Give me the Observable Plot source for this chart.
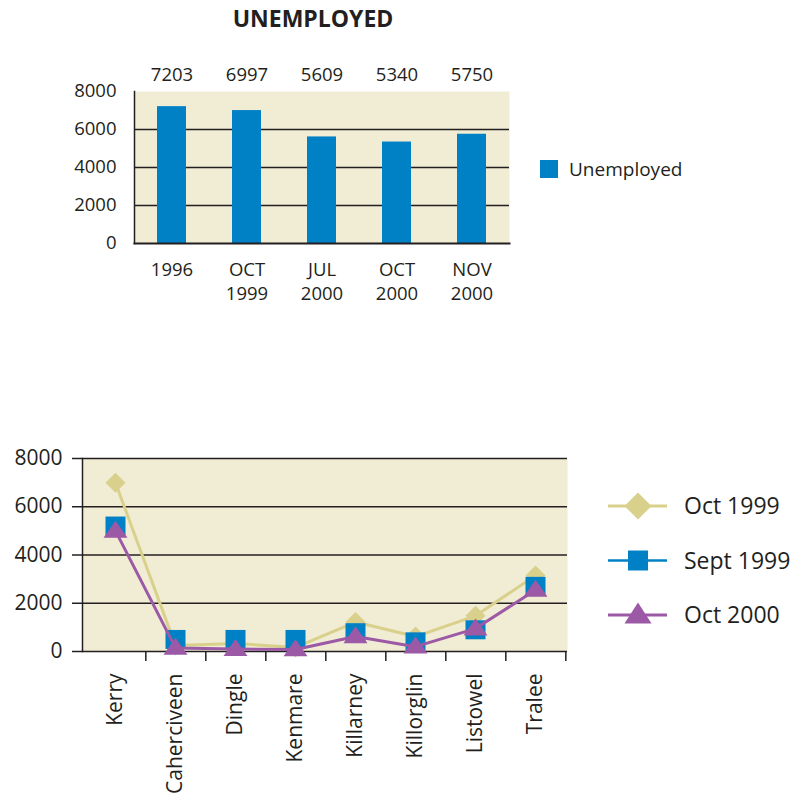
<!DOCTYPE html>
<html>
<head>
<meta charset="utf-8">
<script src="https://cdn.jsdelivr.net/npm/d3@7"></script>
<script src="https://cdn.jsdelivr.net/npm/@observablehq/plot@0.6"></script>
<style>
  html, body { margin: 0; padding: 0; background: #fff; }
  #root { position: relative; width: 799px; height: 796px; background: #fff; font-family: "Open Sans", sans-serif; color: #231f20; overflow: hidden; }
  .abs { position: absolute; }
</style>
</head>
<body>
<div id="root"></div>
<script>
// ---------- Data ----------
const title = "UNEMPLOYED";
const periods = ["1996", "OCT\n1999", "JUL\n2000", "OCT\n2000", "NOV\n2000"];
const unemployed = [7203, 6997, 5609, 5340, 5750];
const barSeriesName = "Unemployed";

const towns = ["Kerry", "Caherciveen", "Dingle", "Kenmare", "Killarney", "Killorglin", "Listowel", "Tralee"];
const oct1999 = [6997, 250, 330, 170, 1220, 620, 1480, 3150];
const sept1999 = [5200, 500, 500, 500, 780, 400, 900, 2700];
const oct2000 = [5000, 150, 100, 80, 620, 200, 950, 2550];
const seriesNames = ["Oct 1999", "Sept 1999", "Oct 2000"];
const yTicks = [0, 2000, 4000, 6000, 8000];

// ---------- Styles ----------
const INK = "#231f20";
const BEIGE = "#f1ecd4";
const BLUE = "#0081c6";
const KHAKI = "#d9d08c";
const PURPLE = "#9b59a6";
const FONT = "'Open Sans', sans-serif";

// custom symbols
const diamondSym = (w, h) => ({draw(ctx) { ctx.moveTo(0, -h/2); ctx.lineTo(w/2, 0); ctx.lineTo(0, h/2); ctx.lineTo(-w/2, 0); ctx.closePath(); }});
const squareSym = (w, h) => ({draw(ctx) { ctx.moveTo(-w/2, -h/2); ctx.lineTo(w/2, -h/2); ctx.lineTo(w/2, h/2); ctx.lineTo(-w/2, h/2); ctx.closePath(); }});
const triangleSym = (w, h) => ({draw(ctx) { ctx.moveTo(0, -h*0.6); ctx.lineTo(w/2, h*0.4); ctx.lineTo(-w/2, h*0.4); ctx.closePath(); }});

const root = document.getElementById("root");

// ---------- Title ----------
const titleDiv = document.createElement("div");
titleDiv.className = "abs";
titleDiv.textContent = title;
Object.assign(titleDiv.style, {left: "163px", width: "300px", top: "7px", textAlign: "center", fontWeight: "700", fontSize: "23px", lineHeight: "1"});
root.appendChild(titleDiv);

// ---------- Top bar chart ----------
const barData = periods.map((p, i) => ({period: p, value: unemployed[i]}));
const barChart = Plot.plot({
  width: 530, height: 310,
  marginTop: 91, marginBottom: 67, marginLeft: 134, marginRight: 21,
  style: {fontFamily: FONT, fontSize: "18.5px", color: INK, background: "transparent"},
  x: {domain: periods, padding: 0, label: null},
  y: {domain: [0, 8000], label: null},
  marks: [
    Plot.frame({fill: BEIGE}),
    Plot.gridY([2000, 4000, 6000], {stroke: INK, strokeOpacity: 1, strokeWidth: 1.5}),
    Plot.barY(barData, {x: "period", y: "value", fill: BLUE, insetLeft: 23, insetRight: 23}),
    Plot.frame({anchor: "left", stroke: INK, strokeWidth: 1.5}),
    Plot.frame({anchor: "bottom", stroke: INK, strokeWidth: 2}),
    Plot.axisY({ticks: yTicks, tickSize: 0, tickPadding: 18, tickFormat: d => String(d), fontSize: 18.5}),
    Plot.axisX({tickSize: 0, tickPadding: 15, lineHeight: 1.3, fontSize: 18.5}),
    Plot.text(barData, {x: "period", text: d => String(d.value), frameAnchor: "top", lineAnchor: "middle", dy: -16, fontSize: 18.5, fill: INK})
  ]
});
barChart.classList.add("abs");
barChart.style.left = "0px"; barChart.style.top = "0px";
root.appendChild(barChart);

// top legend
const lsq = document.createElement("div");
lsq.className = "abs";
Object.assign(lsq.style, {left: "540px", top: "160px", width: "18px", height: "18px", background: BLUE});
root.appendChild(lsq);
const ltx = document.createElement("div");
ltx.className = "abs";
ltx.textContent = barSeriesName;
Object.assign(ltx.style, {left: "569px", top: "158px", fontSize: "19px", lineHeight: "22px"});
root.appendChild(ltx);

// ---------- Bottom line chart ----------
const mk = vals => towns.map((town, i) => ({town, value: vals[i]}));
const dOct99 = mk(oct1999), dSep99 = mk(sept1999), dOct00 = mk(oct2000);
const step = (567 - 82) / towns.length;
const lineChart = Plot.plot({
  width: 580, height: 366,
  marginTop: 28, marginBottom: 145, marginLeft: 82, marginRight: 13,
  style: {fontFamily: FONT, fontSize: "21px", color: INK, background: "transparent"},
  x: {type: "band", domain: towns, padding: 0, label: null},
  y: {domain: [0, 8000], label: null},
  marks: [
    Plot.frame({fill: BEIGE}),
    Plot.gridY(yTicks, {stroke: INK, strokeOpacity: 1, strokeWidth: 1.5}),
    Plot.axisY({ticks: yTicks, tickSize: 10, tickPadding: 10, strokeWidth: 1.5, tickFormat: d => String(d), fontSize: 21}),
    Plot.frame({anchor: "left", stroke: INK, strokeWidth: 1.5}),
    Plot.axisX({tickSize: 0, tickPadding: 22, tickRotate: -90, fontSize: 21}),
    Plot.axisX({tickSize: 10, fill: "none", dx: step / 2, strokeWidth: 1.5}),
    Plot.line(dOct99, {x: "town", y: "value", stroke: KHAKI, strokeWidth: 3}),
    Plot.dot(dOct99, {x: "town", y: "value", fill: KHAKI, symbol: diamondSym(20, 20), r: 8}),
    Plot.dot(dSep99, {x: "town", y: "value", fill: BLUE, symbol: squareSym(20, 19), r: 8}),
    Plot.line(dOct00, {x: "town", y: "value", stroke: PURPLE, strokeWidth: 3}),
    Plot.dot(dOct00, {x: "town", y: "value", fill: PURPLE, symbol: triangleSym(24, 17), r: 8})
  ]
});
lineChart.classList.add("abs");
lineChart.style.left = "0px"; lineChart.style.top = "430px";
root.appendChild(lineChart);

// bottom legend
const legendColors = [KHAKI, BLUE, PURPLE];
const legendSyms = [diamondSym(27, 27), squareSym(20, 20), triangleSym(27, 21)];
const legendLineW = [3, 2.5, 3];
const leg = d3.create("svg").attr("width", 209).attr("height", 170)
  .attr("class", "abs").style("left", "590px").style("top", "470px");
seriesNames.forEach((name, i) => {
  const cy = 36 + i * 54.5;
  const g = leg.append("g").attr("transform", `translate(0,${cy})`);
  g.append("line").attr("x1", 18).attr("x2", 77).attr("y1", 0).attr("y2", 0)
    .attr("stroke", legendColors[i]).attr("stroke-width", legendLineW[i]);
  g.append("path").attr("transform", "translate(48,0)")
    .attr("d", d3.symbol(legendSyms[i])()).attr("fill", legendColors[i]);
  g.append("text").attr("x", 94).attr("y", 0).attr("dy", "0.35em")
    .attr("font-family", FONT).attr("font-size", 23).attr("fill", INK).text(name);
});
root.appendChild(leg.node());
</script>
</body>
</html>
